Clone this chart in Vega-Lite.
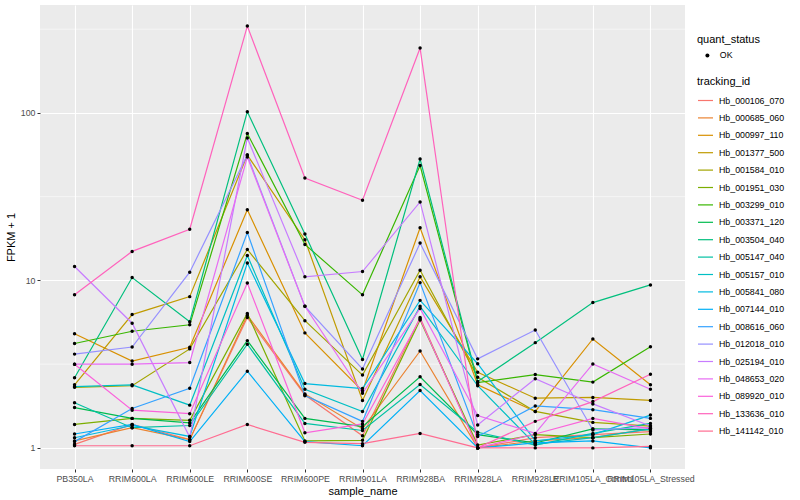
{
 "$schema": "https://vega.github.io/schema/vega-lite/v6.json",
 "width": 645,
 "height": 464,
 "autosize": {"type": "none"},
 "padding": {"left": 40, "top": 5, "right": 115, "bottom": 31},
 "background": "white",
 "config": {
  "font": "Liberation Sans",
  "view": {"fill": "#EBEBEB", "stroke": null},
  "axis": {"domain": false, "gridColor": "white", "gridWidth": 1.1, "tickColor": "#333333", "tickSize": 3, "tickWidth": 1, "labelColor": "#4D4D4D", "labelFontSize": 8.8, "labelFont": "Liberation Sans", "titleFont": "Liberation Sans", "titleFontSize": 11, "titleFontWeight": "normal", "titleColor": "black", "labelPadding": 2},
  "legend": {"padding": 0, "titleFontSize": 11, "titleFontWeight": "normal", "titleColor": "black", "labelFontSize": 8.8, "labelColor": "black", "titleFont": "Liberation Sans", "labelFont": "Liberation Sans"}
 },
 "datasets": {
  "expr": [
{"tracking_id":"Hb_000106_070","sample_name":"PB350LA","fpkm":1.05,"quant_status":"OK"},
{"tracking_id":"Hb_000106_070","sample_name":"RRIM600LA","fpkm":1.38,"quant_status":"OK"},
{"tracking_id":"Hb_000106_070","sample_name":"RRIM600LE","fpkm":1.12,"quant_status":"OK"},
{"tracking_id":"Hb_000106_070","sample_name":"RRIM600SE","fpkm":6.0,"quant_status":"OK"},
{"tracking_id":"Hb_000106_070","sample_name":"RRIM600PE","fpkm":2.07,"quant_status":"OK"},
{"tracking_id":"Hb_000106_070","sample_name":"RRIM901LA","fpkm":1.18,"quant_status":"OK"},
{"tracking_id":"Hb_000106_070","sample_name":"RRIM928BA","fpkm":6.0,"quant_status":"OK"},
{"tracking_id":"Hb_000106_070","sample_name":"RRIM928LA","fpkm":1.0,"quant_status":"OK"},
{"tracking_id":"Hb_000106_070","sample_name":"RRIM928LE","fpkm":1.15,"quant_status":"OK"},
{"tracking_id":"Hb_000106_070","sample_name":"RRIM105LA_Control","fpkm":1.2,"quant_status":"OK"},
{"tracking_id":"Hb_000106_070","sample_name":"RRIM105LA_Stressed","fpkm":1.25,"quant_status":"OK"},
{"tracking_id":"Hb_000685_060","sample_name":"PB350LA","fpkm":1.1,"quant_status":"OK"},
{"tracking_id":"Hb_000685_060","sample_name":"RRIM600LA","fpkm":1.32,"quant_status":"OK"},
{"tracking_id":"Hb_000685_060","sample_name":"RRIM600LE","fpkm":1.12,"quant_status":"OK"},
{"tracking_id":"Hb_000685_060","sample_name":"RRIM600SE","fpkm":6.2,"quant_status":"OK"},
{"tracking_id":"Hb_000685_060","sample_name":"RRIM600PE","fpkm":2.1,"quant_status":"OK"},
{"tracking_id":"Hb_000685_060","sample_name":"RRIM901LA","fpkm":1.3,"quant_status":"OK"},
{"tracking_id":"Hb_000685_060","sample_name":"RRIM928BA","fpkm":3.79,"quant_status":"OK"},
{"tracking_id":"Hb_000685_060","sample_name":"RRIM928LA","fpkm":1.0,"quant_status":"OK"},
{"tracking_id":"Hb_000685_060","sample_name":"RRIM928LE","fpkm":1.1,"quant_status":"OK"},
{"tracking_id":"Hb_000685_060","sample_name":"RRIM105LA_Control","fpkm":1.15,"quant_status":"OK"},
{"tracking_id":"Hb_000685_060","sample_name":"RRIM105LA_Stressed","fpkm":1.3,"quant_status":"OK"},
{"tracking_id":"Hb_000997_110","sample_name":"PB350LA","fpkm":4.8,"quant_status":"OK"},
{"tracking_id":"Hb_000997_110","sample_name":"RRIM600LA","fpkm":3.3,"quant_status":"OK"},
{"tracking_id":"Hb_000997_110","sample_name":"RRIM600LE","fpkm":3.99,"quant_status":"OK"},
{"tracking_id":"Hb_000997_110","sample_name":"RRIM600SE","fpkm":26.4,"quant_status":"OK"},
{"tracking_id":"Hb_000997_110","sample_name":"RRIM600PE","fpkm":4.86,"quant_status":"OK"},
{"tracking_id":"Hb_000997_110","sample_name":"RRIM901LA","fpkm":2.19,"quant_status":"OK"},
{"tracking_id":"Hb_000997_110","sample_name":"RRIM928BA","fpkm":20.6,"quant_status":"OK"},
{"tracking_id":"Hb_000997_110","sample_name":"RRIM928LA","fpkm":2.38,"quant_status":"OK"},
{"tracking_id":"Hb_000997_110","sample_name":"RRIM928LE","fpkm":1.65,"quant_status":"OK"},
{"tracking_id":"Hb_000997_110","sample_name":"RRIM105LA_Control","fpkm":4.47,"quant_status":"OK"},
{"tracking_id":"Hb_000997_110","sample_name":"RRIM105LA_Stressed","fpkm":2.38,"quant_status":"OK"},
{"tracking_id":"Hb_001377_500","sample_name":"PB350LA","fpkm":2.38,"quant_status":"OK"},
{"tracking_id":"Hb_001377_500","sample_name":"RRIM600LA","fpkm":6.25,"quant_status":"OK"},
{"tracking_id":"Hb_001377_500","sample_name":"RRIM600LE","fpkm":8.0,"quant_status":"OK"},
{"tracking_id":"Hb_001377_500","sample_name":"RRIM600SE","fpkm":56,"quant_status":"OK"},
{"tracking_id":"Hb_001377_500","sample_name":"RRIM600PE","fpkm":17.5,"quant_status":"OK"},
{"tracking_id":"Hb_001377_500","sample_name":"RRIM901LA","fpkm":1.92,"quant_status":"OK"},
{"tracking_id":"Hb_001377_500","sample_name":"RRIM928BA","fpkm":10.5,"quant_status":"OK"},
{"tracking_id":"Hb_001377_500","sample_name":"RRIM928LA","fpkm":2.83,"quant_status":"OK"},
{"tracking_id":"Hb_001377_500","sample_name":"RRIM928LE","fpkm":1.98,"quant_status":"OK"},
{"tracking_id":"Hb_001377_500","sample_name":"RRIM105LA_Control","fpkm":2.0,"quant_status":"OK"},
{"tracking_id":"Hb_001377_500","sample_name":"RRIM105LA_Stressed","fpkm":1.92,"quant_status":"OK"},
{"tracking_id":"Hb_001584_010","sample_name":"PB350LA","fpkm":2.3,"quant_status":"OK"},
{"tracking_id":"Hb_001584_010","sample_name":"RRIM600LA","fpkm":2.35,"quant_status":"OK"},
{"tracking_id":"Hb_001584_010","sample_name":"RRIM600LE","fpkm":3.9,"quant_status":"OK"},
{"tracking_id":"Hb_001584_010","sample_name":"RRIM600SE","fpkm":15.3,"quant_status":"OK"},
{"tracking_id":"Hb_001584_010","sample_name":"RRIM600PE","fpkm":5.75,"quant_status":"OK"},
{"tracking_id":"Hb_001584_010","sample_name":"RRIM901LA","fpkm":2.72,"quant_status":"OK"},
{"tracking_id":"Hb_001584_010","sample_name":"RRIM928BA","fpkm":11.5,"quant_status":"OK"},
{"tracking_id":"Hb_001584_010","sample_name":"RRIM928LA","fpkm":2.64,"quant_status":"OK"},
{"tracking_id":"Hb_001584_010","sample_name":"RRIM928LE","fpkm":1.65,"quant_status":"OK"},
{"tracking_id":"Hb_001584_010","sample_name":"RRIM105LA_Control","fpkm":1.42,"quant_status":"OK"},
{"tracking_id":"Hb_001584_010","sample_name":"RRIM105LA_Stressed","fpkm":1.35,"quant_status":"OK"},
{"tracking_id":"Hb_001951_030","sample_name":"PB350LA","fpkm":1.38,"quant_status":"OK"},
{"tracking_id":"Hb_001951_030","sample_name":"RRIM600LA","fpkm":1.5,"quant_status":"OK"},
{"tracking_id":"Hb_001951_030","sample_name":"RRIM600LE","fpkm":1.46,"quant_status":"OK"},
{"tracking_id":"Hb_001951_030","sample_name":"RRIM600SE","fpkm":6.35,"quant_status":"OK"},
{"tracking_id":"Hb_001951_030","sample_name":"RRIM600PE","fpkm":1.1,"quant_status":"OK"},
{"tracking_id":"Hb_001951_030","sample_name":"RRIM901LA","fpkm":1.11,"quant_status":"OK"},
{"tracking_id":"Hb_001951_030","sample_name":"RRIM928BA","fpkm":5.8,"quant_status":"OK"},
{"tracking_id":"Hb_001951_030","sample_name":"RRIM928LA","fpkm":1.04,"quant_status":"OK"},
{"tracking_id":"Hb_001951_030","sample_name":"RRIM928LE","fpkm":1.2,"quant_status":"OK"},
{"tracking_id":"Hb_001951_030","sample_name":"RRIM105LA_Control","fpkm":1.15,"quant_status":"OK"},
{"tracking_id":"Hb_001951_030","sample_name":"RRIM105LA_Stressed","fpkm":1.21,"quant_status":"OK"},
{"tracking_id":"Hb_003299_010","sample_name":"PB350LA","fpkm":4.2,"quant_status":"OK"},
{"tracking_id":"Hb_003299_010","sample_name":"RRIM600LA","fpkm":4.97,"quant_status":"OK"},
{"tracking_id":"Hb_003299_010","sample_name":"RRIM600LE","fpkm":5.43,"quant_status":"OK"},
{"tracking_id":"Hb_003299_010","sample_name":"RRIM600SE","fpkm":75.3,"quant_status":"OK"},
{"tracking_id":"Hb_003299_010","sample_name":"RRIM600PE","fpkm":16.4,"quant_status":"OK"},
{"tracking_id":"Hb_003299_010","sample_name":"RRIM901LA","fpkm":8.2,"quant_status":"OK"},
{"tracking_id":"Hb_003299_010","sample_name":"RRIM928BA","fpkm":48.5,"quant_status":"OK"},
{"tracking_id":"Hb_003299_010","sample_name":"RRIM928LA","fpkm":2.45,"quant_status":"OK"},
{"tracking_id":"Hb_003299_010","sample_name":"RRIM928LE","fpkm":2.74,"quant_status":"OK"},
{"tracking_id":"Hb_003299_010","sample_name":"RRIM105LA_Control","fpkm":2.47,"quant_status":"OK"},
{"tracking_id":"Hb_003299_010","sample_name":"RRIM105LA_Stressed","fpkm":4.02,"quant_status":"OK"},
{"tracking_id":"Hb_003371_120","sample_name":"PB350LA","fpkm":1.74,"quant_status":"OK"},
{"tracking_id":"Hb_003371_120","sample_name":"RRIM600LA","fpkm":1.5,"quant_status":"OK"},
{"tracking_id":"Hb_003371_120","sample_name":"RRIM600LE","fpkm":1.41,"quant_status":"OK"},
{"tracking_id":"Hb_003371_120","sample_name":"RRIM600SE","fpkm":4.37,"quant_status":"OK"},
{"tracking_id":"Hb_003371_120","sample_name":"RRIM600PE","fpkm":1.5,"quant_status":"OK"},
{"tracking_id":"Hb_003371_120","sample_name":"RRIM901LA","fpkm":1.34,"quant_status":"OK"},
{"tracking_id":"Hb_003371_120","sample_name":"RRIM928BA","fpkm":2.66,"quant_status":"OK"},
{"tracking_id":"Hb_003371_120","sample_name":"RRIM928LA","fpkm":1.2,"quant_status":"OK"},
{"tracking_id":"Hb_003371_120","sample_name":"RRIM928LE","fpkm":1.07,"quant_status":"OK"},
{"tracking_id":"Hb_003371_120","sample_name":"RRIM105LA_Control","fpkm":1.3,"quant_status":"OK"},
{"tracking_id":"Hb_003371_120","sample_name":"RRIM105LA_Stressed","fpkm":1.28,"quant_status":"OK"},
{"tracking_id":"Hb_003504_040","sample_name":"PB350LA","fpkm":2.62,"quant_status":"OK"},
{"tracking_id":"Hb_003504_040","sample_name":"RRIM600LA","fpkm":10.4,"quant_status":"OK"},
{"tracking_id":"Hb_003504_040","sample_name":"RRIM600LE","fpkm":5.67,"quant_status":"OK"},
{"tracking_id":"Hb_003504_040","sample_name":"RRIM600SE","fpkm":101.7,"quant_status":"OK"},
{"tracking_id":"Hb_003504_040","sample_name":"RRIM600PE","fpkm":18.9,"quant_status":"OK"},
{"tracking_id":"Hb_003504_040","sample_name":"RRIM901LA","fpkm":3.37,"quant_status":"OK"},
{"tracking_id":"Hb_003504_040","sample_name":"RRIM928BA","fpkm":53,"quant_status":"OK"},
{"tracking_id":"Hb_003504_040","sample_name":"RRIM928LA","fpkm":2.49,"quant_status":"OK"},
{"tracking_id":"Hb_003504_040","sample_name":"RRIM928LE","fpkm":4.25,"quant_status":"OK"},
{"tracking_id":"Hb_003504_040","sample_name":"RRIM105LA_Control","fpkm":7.37,"quant_status":"OK"},
{"tracking_id":"Hb_003504_040","sample_name":"RRIM105LA_Stressed","fpkm":9.4,"quant_status":"OK"},
{"tracking_id":"Hb_005147_040","sample_name":"PB350LA","fpkm":1.86,"quant_status":"OK"},
{"tracking_id":"Hb_005147_040","sample_name":"RRIM600LA","fpkm":1.32,"quant_status":"OK"},
{"tracking_id":"Hb_005147_040","sample_name":"RRIM600LE","fpkm":1.36,"quant_status":"OK"},
{"tracking_id":"Hb_005147_040","sample_name":"RRIM600SE","fpkm":4.16,"quant_status":"OK"},
{"tracking_id":"Hb_005147_040","sample_name":"RRIM600PE","fpkm":1.4,"quant_status":"OK"},
{"tracking_id":"Hb_005147_040","sample_name":"RRIM901LA","fpkm":1.27,"quant_status":"OK"},
{"tracking_id":"Hb_005147_040","sample_name":"RRIM928BA","fpkm":2.39,"quant_status":"OK"},
{"tracking_id":"Hb_005147_040","sample_name":"RRIM928LA","fpkm":1.24,"quant_status":"OK"},
{"tracking_id":"Hb_005147_040","sample_name":"RRIM928LE","fpkm":1.04,"quant_status":"OK"},
{"tracking_id":"Hb_005147_040","sample_name":"RRIM105LA_Control","fpkm":1.22,"quant_status":"OK"},
{"tracking_id":"Hb_005147_040","sample_name":"RRIM105LA_Stressed","fpkm":1.4,"quant_status":"OK"},
{"tracking_id":"Hb_005157_010","sample_name":"PB350LA","fpkm":2.32,"quant_status":"OK"},
{"tracking_id":"Hb_005157_010","sample_name":"RRIM600LA","fpkm":2.38,"quant_status":"OK"},
{"tracking_id":"Hb_005157_010","sample_name":"RRIM600LE","fpkm":1.8,"quant_status":"OK"},
{"tracking_id":"Hb_005157_010","sample_name":"RRIM600SE","fpkm":14.1,"quant_status":"OK"},
{"tracking_id":"Hb_005157_010","sample_name":"RRIM600PE","fpkm":2.24,"quant_status":"OK"},
{"tracking_id":"Hb_005157_010","sample_name":"RRIM901LA","fpkm":1.65,"quant_status":"OK"},
{"tracking_id":"Hb_005157_010","sample_name":"RRIM928BA","fpkm":7.0,"quant_status":"OK"},
{"tracking_id":"Hb_005157_010","sample_name":"RRIM928LA","fpkm":2.35,"quant_status":"OK"},
{"tracking_id":"Hb_005157_010","sample_name":"RRIM928LE","fpkm":1.05,"quant_status":"OK"},
{"tracking_id":"Hb_005157_010","sample_name":"RRIM105LA_Control","fpkm":1.15,"quant_status":"OK"},
{"tracking_id":"Hb_005157_010","sample_name":"RRIM105LA_Stressed","fpkm":1.3,"quant_status":"OK"},
{"tracking_id":"Hb_005841_080","sample_name":"PB350LA","fpkm":1.15,"quant_status":"OK"},
{"tracking_id":"Hb_005841_080","sample_name":"RRIM600LA","fpkm":1.36,"quant_status":"OK"},
{"tracking_id":"Hb_005841_080","sample_name":"RRIM600LE","fpkm":1.17,"quant_status":"OK"},
{"tracking_id":"Hb_005841_080","sample_name":"RRIM600SE","fpkm":12.7,"quant_status":"OK"},
{"tracking_id":"Hb_005841_080","sample_name":"RRIM600PE","fpkm":2.42,"quant_status":"OK"},
{"tracking_id":"Hb_005841_080","sample_name":"RRIM901LA","fpkm":2.26,"quant_status":"OK"},
{"tracking_id":"Hb_005841_080","sample_name":"RRIM928BA","fpkm":7.6,"quant_status":"OK"},
{"tracking_id":"Hb_005841_080","sample_name":"RRIM928LA","fpkm":3.18,"quant_status":"OK"},
{"tracking_id":"Hb_005841_080","sample_name":"RRIM928LE","fpkm":1.1,"quant_status":"OK"},
{"tracking_id":"Hb_005841_080","sample_name":"RRIM105LA_Control","fpkm":1.2,"quant_status":"OK"},
{"tracking_id":"Hb_005841_080","sample_name":"RRIM105LA_Stressed","fpkm":1.57,"quant_status":"OK"},
{"tracking_id":"Hb_007144_010","sample_name":"PB350LA","fpkm":1.21,"quant_status":"OK"},
{"tracking_id":"Hb_007144_010","sample_name":"RRIM600LA","fpkm":1.38,"quant_status":"OK"},
{"tracking_id":"Hb_007144_010","sample_name":"RRIM600LE","fpkm":1.09,"quant_status":"OK"},
{"tracking_id":"Hb_007144_010","sample_name":"RRIM600SE","fpkm":2.87,"quant_status":"OK"},
{"tracking_id":"Hb_007144_010","sample_name":"RRIM600PE","fpkm":1.09,"quant_status":"OK"},
{"tracking_id":"Hb_007144_010","sample_name":"RRIM901LA","fpkm":1.03,"quant_status":"OK"},
{"tracking_id":"Hb_007144_010","sample_name":"RRIM928BA","fpkm":2.2,"quant_status":"OK"},
{"tracking_id":"Hb_007144_010","sample_name":"RRIM928LA","fpkm":1.0,"quant_status":"OK"},
{"tracking_id":"Hb_007144_010","sample_name":"RRIM928LE","fpkm":1.07,"quant_status":"OK"},
{"tracking_id":"Hb_007144_010","sample_name":"RRIM105LA_Control","fpkm":1.1,"quant_status":"OK"},
{"tracking_id":"Hb_007144_010","sample_name":"RRIM105LA_Stressed","fpkm":1.0,"quant_status":"OK"},
{"tracking_id":"Hb_008616_060","sample_name":"PB350LA","fpkm":1.09,"quant_status":"OK"},
{"tracking_id":"Hb_008616_060","sample_name":"RRIM600LA","fpkm":1.72,"quant_status":"OK"},
{"tracking_id":"Hb_008616_060","sample_name":"RRIM600LE","fpkm":2.27,"quant_status":"OK"},
{"tracking_id":"Hb_008616_060","sample_name":"RRIM600SE","fpkm":19.3,"quant_status":"OK"},
{"tracking_id":"Hb_008616_060","sample_name":"RRIM600PE","fpkm":2.05,"quant_status":"OK"},
{"tracking_id":"Hb_008616_060","sample_name":"RRIM901LA","fpkm":1.44,"quant_status":"OK"},
{"tracking_id":"Hb_008616_060","sample_name":"RRIM928BA","fpkm":9.7,"quant_status":"OK"},
{"tracking_id":"Hb_008616_060","sample_name":"RRIM928LA","fpkm":1.17,"quant_status":"OK"},
{"tracking_id":"Hb_008616_060","sample_name":"RRIM928LE","fpkm":1.78,"quant_status":"OK"},
{"tracking_id":"Hb_008616_060","sample_name":"RRIM105LA_Control","fpkm":1.69,"quant_status":"OK"},
{"tracking_id":"Hb_008616_060","sample_name":"RRIM105LA_Stressed","fpkm":1.5,"quant_status":"OK"},
{"tracking_id":"Hb_012018_010","sample_name":"PB350LA","fpkm":3.63,"quant_status":"OK"},
{"tracking_id":"Hb_012018_010","sample_name":"RRIM600LA","fpkm":4.0,"quant_status":"OK"},
{"tracking_id":"Hb_012018_010","sample_name":"RRIM600LE","fpkm":11.2,"quant_status":"OK"},
{"tracking_id":"Hb_012018_010","sample_name":"RRIM600SE","fpkm":56,"quant_status":"OK"},
{"tracking_id":"Hb_012018_010","sample_name":"RRIM600PE","fpkm":7.0,"quant_status":"OK"},
{"tracking_id":"Hb_012018_010","sample_name":"RRIM901LA","fpkm":2.96,"quant_status":"OK"},
{"tracking_id":"Hb_012018_010","sample_name":"RRIM928BA","fpkm":16.7,"quant_status":"OK"},
{"tracking_id":"Hb_012018_010","sample_name":"RRIM928LA","fpkm":3.4,"quant_status":"OK"},
{"tracking_id":"Hb_012018_010","sample_name":"RRIM928LE","fpkm":5.06,"quant_status":"OK"},
{"tracking_id":"Hb_012018_010","sample_name":"RRIM105LA_Control","fpkm":1.28,"quant_status":"OK"},
{"tracking_id":"Hb_012018_010","sample_name":"RRIM105LA_Stressed","fpkm":1.32,"quant_status":"OK"},
{"tracking_id":"Hb_025194_010","sample_name":"PB350LA","fpkm":12.1,"quant_status":"OK"},
{"tracking_id":"Hb_025194_010","sample_name":"RRIM600LA","fpkm":5.55,"quant_status":"OK"},
{"tracking_id":"Hb_025194_010","sample_name":"RRIM600LE","fpkm":1.16,"quant_status":"OK"},
{"tracking_id":"Hb_025194_010","sample_name":"RRIM600SE","fpkm":70.9,"quant_status":"OK"},
{"tracking_id":"Hb_025194_010","sample_name":"RRIM600PE","fpkm":10.5,"quant_status":"OK"},
{"tracking_id":"Hb_025194_010","sample_name":"RRIM901LA","fpkm":11.3,"quant_status":"OK"},
{"tracking_id":"Hb_025194_010","sample_name":"RRIM928BA","fpkm":29.4,"quant_status":"OK"},
{"tracking_id":"Hb_025194_010","sample_name":"RRIM928LA","fpkm":1.37,"quant_status":"OK"},
{"tracking_id":"Hb_025194_010","sample_name":"RRIM928LE","fpkm":2.59,"quant_status":"OK"},
{"tracking_id":"Hb_025194_010","sample_name":"RRIM105LA_Control","fpkm":1.83,"quant_status":"OK"},
{"tracking_id":"Hb_025194_010","sample_name":"RRIM105LA_Stressed","fpkm":1.35,"quant_status":"OK"},
{"tracking_id":"Hb_048653_020","sample_name":"PB350LA","fpkm":3.16,"quant_status":"OK"},
{"tracking_id":"Hb_048653_020","sample_name":"RRIM600LA","fpkm":3.16,"quant_status":"OK"},
{"tracking_id":"Hb_048653_020","sample_name":"RRIM600LE","fpkm":3.23,"quant_status":"OK"},
{"tracking_id":"Hb_048653_020","sample_name":"RRIM600SE","fpkm":54.5,"quant_status":"OK"},
{"tracking_id":"Hb_048653_020","sample_name":"RRIM600PE","fpkm":7.0,"quant_status":"OK"},
{"tracking_id":"Hb_048653_020","sample_name":"RRIM901LA","fpkm":2.12,"quant_status":"OK"},
{"tracking_id":"Hb_048653_020","sample_name":"RRIM928BA","fpkm":6.8,"quant_status":"OK"},
{"tracking_id":"Hb_048653_020","sample_name":"RRIM928LA","fpkm":1.56,"quant_status":"OK"},
{"tracking_id":"Hb_048653_020","sample_name":"RRIM928LE","fpkm":1.22,"quant_status":"OK"},
{"tracking_id":"Hb_048653_020","sample_name":"RRIM105LA_Control","fpkm":3.17,"quant_status":"OK"},
{"tracking_id":"Hb_048653_020","sample_name":"RRIM105LA_Stressed","fpkm":2.24,"quant_status":"OK"},
{"tracking_id":"Hb_089920_010","sample_name":"PB350LA","fpkm":3.16,"quant_status":"OK"},
{"tracking_id":"Hb_089920_010","sample_name":"RRIM600LA","fpkm":1.68,"quant_status":"OK"},
{"tracking_id":"Hb_089920_010","sample_name":"RRIM600LE","fpkm":1.6,"quant_status":"OK"},
{"tracking_id":"Hb_089920_010","sample_name":"RRIM600SE","fpkm":9.65,"quant_status":"OK"},
{"tracking_id":"Hb_089920_010","sample_name":"RRIM600PE","fpkm":1.23,"quant_status":"OK"},
{"tracking_id":"Hb_089920_010","sample_name":"RRIM901LA","fpkm":1.39,"quant_status":"OK"},
{"tracking_id":"Hb_089920_010","sample_name":"RRIM928BA","fpkm":5.9,"quant_status":"OK"},
{"tracking_id":"Hb_089920_010","sample_name":"RRIM928LA","fpkm":1.0,"quant_status":"OK"},
{"tracking_id":"Hb_089920_010","sample_name":"RRIM928LE","fpkm":1.21,"quant_status":"OK"},
{"tracking_id":"Hb_089920_010","sample_name":"RRIM105LA_Control","fpkm":1.5,"quant_status":"OK"},
{"tracking_id":"Hb_089920_010","sample_name":"RRIM105LA_Stressed","fpkm":1.3,"quant_status":"OK"},
{"tracking_id":"Hb_133636_010","sample_name":"PB350LA","fpkm":8.2,"quant_status":"OK"},
{"tracking_id":"Hb_133636_010","sample_name":"RRIM600LA","fpkm":14.9,"quant_status":"OK"},
{"tracking_id":"Hb_133636_010","sample_name":"RRIM600LE","fpkm":20.2,"quant_status":"OK"},
{"tracking_id":"Hb_133636_010","sample_name":"RRIM600SE","fpkm":330,"quant_status":"OK"},
{"tracking_id":"Hb_133636_010","sample_name":"RRIM600PE","fpkm":40.9,"quant_status":"OK"},
{"tracking_id":"Hb_133636_010","sample_name":"RRIM901LA","fpkm":30.1,"quant_status":"OK"},
{"tracking_id":"Hb_133636_010","sample_name":"RRIM928BA","fpkm":244,"quant_status":"OK"},
{"tracking_id":"Hb_133636_010","sample_name":"RRIM928LA","fpkm":1.0,"quant_status":"OK"},
{"tracking_id":"Hb_133636_010","sample_name":"RRIM928LE","fpkm":1.44,"quant_status":"OK"},
{"tracking_id":"Hb_133636_010","sample_name":"RRIM105LA_Control","fpkm":1.89,"quant_status":"OK"},
{"tracking_id":"Hb_133636_010","sample_name":"RRIM105LA_Stressed","fpkm":2.75,"quant_status":"OK"},
{"tracking_id":"Hb_141142_010","sample_name":"PB350LA","fpkm":1.03,"quant_status":"OK"},
{"tracking_id":"Hb_141142_010","sample_name":"RRIM600LA","fpkm":1.03,"quant_status":"OK"},
{"tracking_id":"Hb_141142_010","sample_name":"RRIM600LE","fpkm":1.03,"quant_status":"OK"},
{"tracking_id":"Hb_141142_010","sample_name":"RRIM600SE","fpkm":1.38,"quant_status":"OK"},
{"tracking_id":"Hb_141142_010","sample_name":"RRIM600PE","fpkm":1.08,"quant_status":"OK"},
{"tracking_id":"Hb_141142_010","sample_name":"RRIM901LA","fpkm":1.06,"quant_status":"OK"},
{"tracking_id":"Hb_141142_010","sample_name":"RRIM928BA","fpkm":1.22,"quant_status":"OK"},
{"tracking_id":"Hb_141142_010","sample_name":"RRIM928LA","fpkm":1.0,"quant_status":"OK"},
{"tracking_id":"Hb_141142_010","sample_name":"RRIM928LE","fpkm":1.0,"quant_status":"OK"},
{"tracking_id":"Hb_141142_010","sample_name":"RRIM105LA_Control","fpkm":1.0,"quant_status":"OK"},
{"tracking_id":"Hb_141142_010","sample_name":"RRIM105LA_Stressed","fpkm":1.02,"quant_status":"OK"}
  ],
  "minor": [{"minor_break": 3.1623}, {"minor_break": 31.623}, {"minor_break": 316.23}]
 },
 "layer": [
  {
   "data": {"name": "minor"},
   "mark": {"type": "rule", "color": "white", "strokeWidth": 0.55},
   "encoding": {
    "y": {"field": "minor_break", "type": "quantitative", "scale": {"type": "log", "domain": [0.748, 441], "nice": false, "zero": false}, "axis": {"title": "FPKM + 1", "values": [1, 10, 100], "format": "d", "grid": true, "titlePadding": 4}}
   }
  },
  {
   "data": {"name": "expr"},
   "mark": {"type": "line", "strokeWidth": 1.2},
   "encoding": {
    "x": {"field": "sample_name", "type": "nominal", "sort": null,
      "scale": {"type": "point", "padding": 0.6, "domain": ["PB350LA", "RRIM600LA", "RRIM600LE", "RRIM600SE", "RRIM600PE", "RRIM901LA", "RRIM928BA", "RRIM928LA", "RRIM928LE", "RRIM105LA_Control", "RRIM105LA_Stressed"]},
      "axis": {"title": "sample_name", "labelAngle": 0, "labelOverlap": false, "labelBound": false, "grid": true, "titlePadding": 3, "labelPadding": 2}},
    "y": {"field": "fpkm", "type": "quantitative", "scale": {"type": "log", "domain": [0.748, 441], "nice": false, "zero": false}, "axis": {"title": "FPKM + 1", "values": [1, 10, 100], "format": "d", "grid": true, "titlePadding": 4}},
    "color": {"field": "tracking_id", "type": "nominal",
      "scale": {"domain": ["Hb_000106_070", "Hb_000685_060", "Hb_000997_110", "Hb_001377_500", "Hb_001584_010", "Hb_001951_030", "Hb_003299_010", "Hb_003371_120", "Hb_003504_040", "Hb_005147_040", "Hb_005157_010", "Hb_005841_080", "Hb_007144_010", "Hb_008616_060", "Hb_012018_010", "Hb_025194_010", "Hb_048653_020", "Hb_089920_010", "Hb_133636_010", "Hb_141142_010"],
        "range": ["#F8766D", "#EA8331", "#D89000", "#C09B00", "#A3A500", "#7CAE00", "#39B600", "#00BB4E", "#00BF7D", "#00C1A3", "#00BFC4", "#00BAE0", "#00B0F6", "#35A2FF", "#9590FF", "#C77CFF", "#E76BF3", "#FA62DB", "#FF62BC", "#FF6C91"]},
      "legend": {"title": "tracking_id", "orient": "none", "legendX": 657, "legendY": 71, "symbolType": "stroke", "symbolSize": 225, "symbolStrokeWidth": 1.2, "rowPadding": 3.4, "titlePadding": 5, "labelOffset": 5}},
    "order": {"value": null}
   }
  },
  {
   "data": {"name": "expr"},
   "mark": {"type": "point", "filled": true, "size": 12, "color": "black", "opacity": 1},
   "encoding": {
    "x": {"field": "sample_name", "type": "nominal", "sort": null},
    "y": {"field": "fpkm", "type": "quantitative"},
    "shape": {"field": "quant_status", "type": "nominal", "scale": {"range": ["circle"]},
      "legend": {"title": "quant_status", "orient": "none", "legendX": 657, "legendY": 29, "symbolFillColor": "black", "symbolStrokeColor": "black", "symbolSize": 16, "titlePadding": 6, "labelOffset": 8, "symbolOffset": 6}}
   }
  }
 ]
}
